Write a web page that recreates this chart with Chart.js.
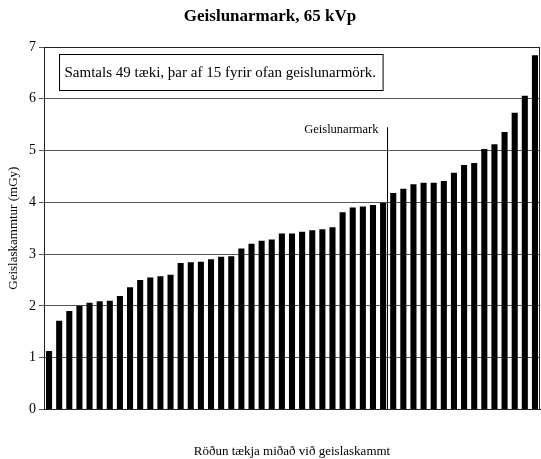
<!DOCTYPE html>
<html>
<head>
<meta charset="utf-8">
<script src="https://cdn.jsdelivr.net/npm/chart.js@4.4.0/dist/chart.umd.min.js"></script>
<style>
  html, body { margin: 0; padding: 0; background: #fff; }
  #wrap { width: 541px; height: 459px; }
</style>
</head>
<body>
<div id="wrap"><canvas id="chart" width="541" height="459"></canvas></div>
<script>
// --- Data ---
const doses = [
    1.13, 1.71, 1.90, 2.00, 2.06, 2.09, 2.10, 2.19, 2.36, 2.50,
    2.55, 2.57, 2.60, 2.83, 2.84, 2.85, 2.90, 2.95, 2.96, 3.11,
    3.20, 3.26, 3.28, 3.40, 3.40, 3.43, 3.46, 3.48, 3.52, 3.81,
    3.90, 3.92, 3.95, 3.99, 4.18, 4.26, 4.35, 4.38, 4.38, 4.41,
    4.57, 4.72, 4.76, 5.03, 5.12, 5.36, 5.73, 6.06, 6.84
];
const deviceLabels = doses.map((_, i) => String(i + 1));
const yTicks = [0, 1, 2, 3, 4, 5, 6, 7];
const limitAfterIndex = 33;      // last device below the limit
const limitLineTop = 5.45;       // where the marker line starts (mGy)
const noteText = 'Samtals 49 tæki, þar af 15 fyrir ofan geislunarmörk.';
const limitLabel = 'Geislunarmark';

const serif = "'Liberation Serif', 'DejaVu Serif', serif";

// --- Annotations drawn on top of the chart ---
const annotations = {
    id: 'annotations',
    afterDraw(chart) {
        const { ctx, chartArea, scales } = chart;
        ctx.save();

        // frame on top and right side
        ctx.strokeStyle = '#222';
        ctx.lineWidth = 1;
        ctx.beginPath();
        ctx.moveTo(chartArea.left, chartArea.top + 0.5);
        ctx.lineTo(chartArea.right - 0.5, chartArea.top + 0.5);
        ctx.lineTo(chartArea.right - 0.5, chartArea.bottom);
        ctx.stroke();

        // limit marker line, just right of the last device under the limit
        const xLine = Math.round(scales.x.getPixelForValue(limitAfterIndex) + 4) + 0.5;
        const yTop = scales.y.getPixelForValue(limitLineTop);
        ctx.strokeStyle = '#000';
        ctx.beginPath();
        ctx.moveTo(xLine, yTop);
        ctx.lineTo(xLine, chartArea.bottom);
        ctx.stroke();

        ctx.fillStyle = '#000';
        ctx.font = `12.5px ${serif}`;
        ctx.textAlign = 'right';
        ctx.textBaseline = 'middle';
        ctx.fillText(limitLabel, xLine - 9, yTop + 2);

        // note box
        ctx.font = `15px ${serif}`;
        ctx.textAlign = 'left';
        const w = ctx.measureText(noteText).width;
        const bx = chartArea.left + 15.5;
        const by = chartArea.top + 7.5;
        ctx.fillStyle = '#fff';
        ctx.fillRect(bx, by, w + 12, 36);
        ctx.strokeStyle = '#000';
        ctx.strokeRect(bx, by, w + 12, 36);
        ctx.fillStyle = '#000';
        ctx.fillText(noteText, bx + 5, by + 18.5);

        ctx.restore();
    }
};

const ctx = document.getElementById('chart').getContext('2d');
new Chart(ctx, {
    type: 'bar',
    data: {
        labels: deviceLabels,
        datasets: [{
            data: doses,
            backgroundColor: '#000',
            borderWidth: 0,
            barPercentage: 0.6,
            categoryPercentage: 1.0
        }]
    },
    options: {
        responsive: false,
        animation: false,
        layout: { padding: { top: 0, right: 1, bottom: 0, left: 0 } },
        plugins: {
            legend: { display: false },
            tooltip: { enabled: false },
            title: {
                display: true,
                text: 'Geislunarmark, 65 kVp',
                color: '#000',
                font: { family: serif, size: 17, weight: 'bold' },
                padding: { top: 6, bottom: 20.6 }
            }
        },
        scales: {
            x: {
                grid: { display: false },
                border: { color: '#222' },
                ticks: { display: false },
                title: {
                    display: true,
                    text: 'Röðun tækja miðað við geislaskammt',
                    color: '#000',
                    font: { family: serif, size: 13 },
                    padding: { top: 26, bottom: 0 }
                }
            },
            y: {
                min: 0,
                max: 7,
                afterBuildTicks: (scale) => {
                    scale.ticks = yTicks.map(v => ({ value: v }));
                },
                afterFit: (scale) => { scale.width = 44; },
                grid: { color: '#555', tickLength: 5 },
                border: { color: '#222' },
                ticks: {
                    color: '#000',
                    padding: 3,
                    font: { family: serif, size: 14 }
                },
                title: {
                    display: true,
                    text: 'Geislaskammtur (mGy)',
                    color: '#000',
                    font: { family: serif, size: 13 },
                    padding: { top: 6, bottom: 0 }
                }
            }
        }
    },
    plugins: [annotations]
});
</script>
</body>
</html>
